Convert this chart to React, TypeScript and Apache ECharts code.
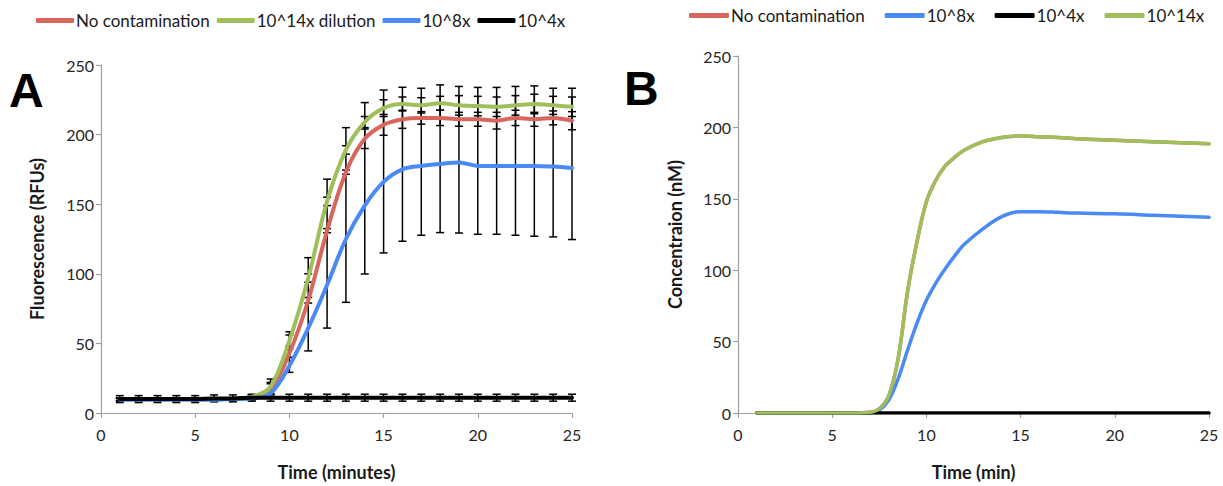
import React, { useEffect, useRef } from "react";
import * as echarts from "echarts";

// ---------- Panel A data (time in minutes, fluorescence RFUs) ----------
const timeA = [1, 2, 3, 4, 5, 6, 7, 8, 9, 10, 11, 12, 13, 14, 15, 16, 17, 18, 19, 20, 21, 22, 23, 24, 25];
const aNoContam = [10, 10, 10, 10, 10, 10, 10, 11, 17, 43, 81, 131, 173, 197, 207, 211, 212, 212, 211, 211, 210, 212, 211, 212, 210];
const a14x = [10, 10, 10, 10, 10, 10, 10, 11.5, 19, 52, 97, 152, 189, 209, 219, 222, 221, 222.5, 221, 220.5, 220, 221, 222, 221, 220];
const a8x = [9.5, 9.5, 9.5, 9.5, 9.5, 9.5, 10, 10.5, 14, 34, 61, 92, 125, 149, 166, 175, 177.5, 179, 180, 177.5, 177.5, 177.5, 177.5, 177, 176];
const a4x = [10, 10, 10, 10, 10, 10.5, 10.5, 11, 11, 11, 11, 11, 11, 11, 11, 11, 11, 11, 11, 11, 11, 11, 11, 11, 11];

const aNoContamErr = [1, 1, 1, 1, 1, 1, 1, 1.5, 4, 3, 2, 1.5, 1.5, 7, 7.5, 6.5, 4.5, 5.5, 5, 5, 6, 5.5, 5, 5, 6.5];
const a14xErr = [1, 1, 1, 1, 1, 1, 1, 1.5, 3, 4, 3, 3, 3, 4, 6, 5, 5.5, 5, 7, 7, 7, 7, 7, 6.5, 7];
const a8xErrLow = [8.5, 8.5, 8.5, 8.5, 8.5, 8.5, 9, 9.5, 13.8, 29.2, 44.6, 61, 79.5, 99.9, 115, 123.4, 127.7, 129.6, 129.3, 128.4, 128.4, 127.7, 127, 126.5, 124.6];
const a8xErrHigh = [10.5, 10.5, 10.5, 10.5, 10.5, 10.5, 11, 11.5, 24.4, 58.4, 111.6, 168, 205, 223, 232, 234, 233.3, 235.7, 234.6, 233.9, 233.9, 234.6, 235, 233.3, 233.3];
const a4xErr = [2.5, 2.5, 2.5, 2.5, 2.5, 2.5, 2.5, 2.5, 2.5, 2.5, 2.5, 2.5, 2.5, 2.5, 2.5, 2.5, 2.5, 2.5, 2.5, 2.5, 2.5, 2.5, 2.5, 2.5, 2.5];

// ---------- Panel B data (time in minutes, concentration nM) ----------
const timeB = [1, 2, 3, 4, 5, 6, 7, 7.5, 8, 8.5, 9, 9.5, 10, 10.5, 11, 11.5, 12, 13, 14, 15, 16, 17, 18, 20, 22, 25];
const bNoContam = [0, 0, 0, 0, 0, 0, 0.5, 3, 12, 38, 85, 120, 148, 163, 173, 179, 184, 190, 193, 194, 193.5, 193, 192, 191, 190, 188.5];
const b8x = [0, 0, 0, 0, 0, 0, 0, 2, 9, 24, 44, 63, 79, 91, 101, 110, 118, 129, 137.5, 141, 141, 140.5, 140, 139.5, 138.5, 137];
const b4x = [0, 0, 0, 0, 0, 0, 0, 0, 0, 0, 0, 0, 0, 0, 0, 0, 0, 0, 0, 0, 0, 0, 0, 0, 0, 0];
const b14x = [0, 0, 0, 0, 0, 0, 0.5, 3, 12, 38, 85, 120, 148, 163, 173, 179, 184, 190, 193, 194, 193.5, 193, 192, 191, 190, 188.5];

const legendA = ["No contamination", "10^14x dilution", "10^8x", "10^4x"];
const legendB = ["No contamination", "10^8x", "10^4x", "10^14x"];

const RED = "#d9665c";
const GREEN = "#9fbf5a";
const BLUE = "#4a8af4";
const BLACK = "#000000";
const FONT = "Lato";

const pairs = (xs: number[], ys: number[]) => xs.map((x, i) => [x, ys[i]]);

const errRender = (params: any, api: any) => {
  const x = api.value(0);
  const lo = api.coord([x, api.value(1)]);
  const hi = api.coord([x, api.value(2)]);
  const hw = 4;
  const style = { stroke: "#000", lineWidth: 1.5 };
  return {
    type: "group",
    children: [
      { type: "line", shape: { x1: lo[0], y1: lo[1], x2: hi[0], y2: hi[1] }, style },
      { type: "line", shape: { x1: lo[0] - hw, y1: lo[1], x2: lo[0] + hw, y2: lo[1] }, style },
      { type: "line", shape: { x1: hi[0] - hw, y1: hi[1], x2: hi[0] + hw, y2: hi[1] }, style },
    ],
  };
};

const symErr = (vals: number[], err: number[]) => timeA.map((t, i) => [t, vals[i] - err[i], vals[i] + err[i]]);
const rangeErr = (lo: number[], hi: number[]) => timeA.map((t, i) => [t, lo[i], hi[i]]);

export default function App() {
  const ref = useRef<HTMLDivElement>(null);
  useEffect(() => {
    document.body.style.margin = "0";
    if (!ref.current) return;
    const chart = echarts.init(ref.current, null, { renderer: "svg" });

    const xLabel = { color: "#262626", fontSize: 16, fontFamily: FONT, margin: 13 };
    const yLabel = { color: "#262626", fontSize: 16, fontFamily: FONT, margin: 7 };
    const axisLine = { show: true, lineStyle: { color: "#a0a0a0", width: 1.2 } };
    const axisTick = { show: true, length: 5, lineStyle: { color: "#a0a0a0", width: 1.2 } };
    const nameStyle = { color: "#1a1a1a", fontSize: 18, fontWeight: "bold" as const, fontFamily: FONT };

    const lineSeries = (name: string, data: number[][], color: string, xi: number, width: number) => ({
      name,
      type: "line",
      xAxisIndex: xi,
      yAxisIndex: xi,
      data,
      smooth: 0.35,
      showSymbol: false,
      symbol: "none",
      color,
      lineStyle: { color, width, cap: "round" },
    });
    const errSeries = (name: string, data: number[][]) => ({
      name,
      type: "custom",
      xAxisIndex: 0,
      yAxisIndex: 0,
      data,
      encode: { x: 0, y: [1, 2] },
      renderItem: errRender,
    });

    chart.setOption({
      animation: false,
      textStyle: { fontFamily: FONT },
      legend: [
        {
          data: legendA,
          left: 31,
          top: 7,
          icon: "roundRect",
          itemWidth: 38,
          itemHeight: 5,
          itemGap: 7,
          textStyle: { fontSize: 17, color: "#1a1a1a", fontFamily: FONT, padding: [0, 0, 0, -3] },
        },
        {
          data: legendB,
          left: 684,
          top: 2,
          icon: "roundRect",
          itemWidth: 40,
          itemHeight: 5,
          itemGap: 20,
          textStyle: { fontSize: 17, color: "#1a1a1a", fontFamily: FONT, padding: [0, 0, 0, -3] },
        },
      ],
      grid: [
        { left: 101, top: 65, width: 471, height: 351 },
        { left: 738, top: 56, width: 471, height: 360 },
      ],
      xAxis: [
        {
          gridIndex: 0, type: "value", min: 0, max: 25, interval: 5,
          name: "Time (minutes)", nameLocation: "middle", nameGap: 50, nameTextStyle: nameStyle,
          axisLine, axisTick, axisLabel: xLabel, splitLine: { show: false },
        },
        {
          gridIndex: 1, type: "value", min: 0, max: 25, interval: 5,
          name: "Time (min)", nameLocation: "middle", nameGap: 50, nameTextStyle: nameStyle,
          axisLine, axisTick, axisLabel: xLabel, splitLine: { show: false },
        },
      ],
      yAxis: [
        {
          gridIndex: 0, type: "value", min: 0, max: 250, interval: 50,
          name: "Fluorescence (RFUs)", nameLocation: "middle", nameGap: 55, nameTextStyle: nameStyle,
          axisLine, axisTick, axisLabel: yLabel, splitLine: { show: false },
        },
        {
          gridIndex: 1, type: "value", min: 0, max: 250, interval: 50,
          name: "Concentraion (nM)", nameLocation: "middle", nameGap: 54, nameTextStyle: nameStyle,
          axisLine, axisTick, axisLabel: yLabel, splitLine: { show: false },
        },
      ],
      graphic: [
        { type: "text", left: 9, top: 66, style: { text: "A", font: "bold 48px 'Liberation Sans', Arial", fill: "#000" } },
        { type: "text", left: 624, top: 64, style: { text: "B", font: "bold 48px 'Liberation Sans', Arial", fill: "#000" } },
      ],
      series: [
        lineSeries("No contamination", pairs(timeA, aNoContam), RED, 0, 4),
        errSeries("errRed", symErr(aNoContam, aNoContamErr)),
        lineSeries("10^14x dilution", pairs(timeA, a14x), GREEN, 0, 4),
        errSeries("errGreen", symErr(a14x, a14xErr)),
        lineSeries("10^8x", pairs(timeA, a8x), BLUE, 0, 4),
        errSeries("errBlue", rangeErr(a8xErrLow, a8xErrHigh)),
        lineSeries("10^4x", pairs(timeA, a4x), BLACK, 0, 4),
        errSeries("errBlack", symErr(a4x, a4xErr)),

        lineSeries("No contamination", pairs(timeB, bNoContam), RED, 1, 3.5),
        lineSeries("10^8x", pairs(timeB, b8x), BLUE, 1, 3.5),
        lineSeries("10^4x", pairs(timeB, b4x), BLACK, 1, 3.5),
        lineSeries("10^14x", pairs(timeB, b14x), GREEN, 1, 3.5),
      ],
    });
    return () => chart.dispose();
  }, []);
  return <div ref={ref} style={{ width: 1223, height: 486 }} />;
}
